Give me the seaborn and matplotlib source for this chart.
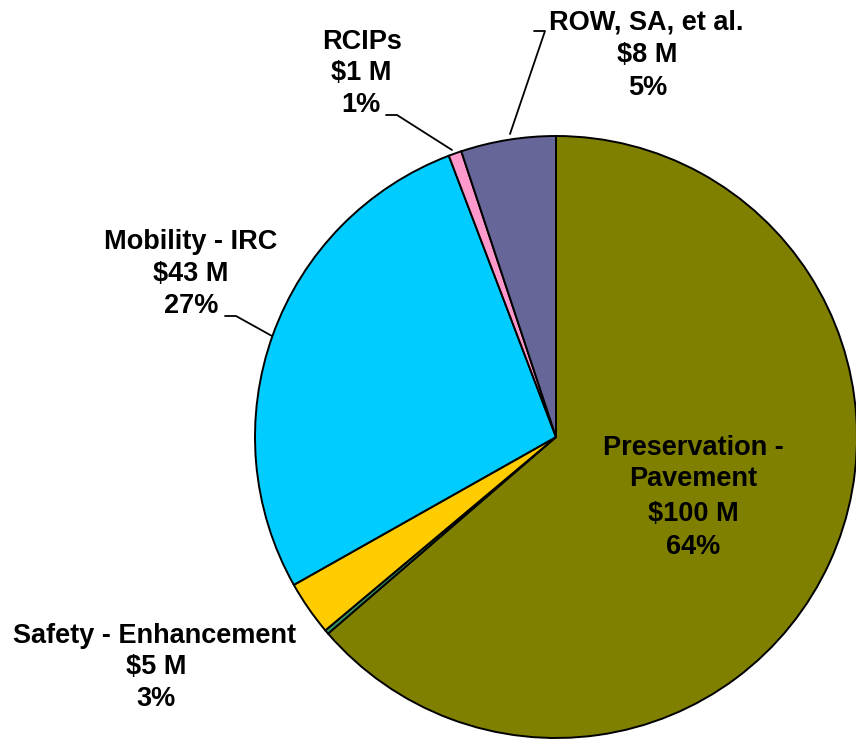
import matplotlib
matplotlib.use("Agg")
import matplotlib.pyplot as plt
import seaborn as sns

# ---- data ----
categories = ["Preservation - Pavement", "Other", "Safety - Enhancement",
              "Mobility - IRC", "RCIPs", "ROW, SA, et al."]
values_musd = [100, 0.35, 4.6, 43, 1.1, 8.0]
show_label = [True, False, True, True, True, True]
colors_hex = ["#808000", "#339966", "#FFCC00", "#00CCFF", "#FF99CC", "#666699"]

sns.set_theme(style="white")
plt.rcParams['font.family'] = ['Liberation Sans', 'DejaVu Sans']

W, H = 856, 744
fig = plt.figure(figsize=(W / 100, H / 100), dpi=100)
ax = fig.add_axes([0, 0, 1, 1])
ax.set_xlim(0, W)
ax.set_ylim(0, H)
ax.set_aspect('equal')
ax.axis('off')

palette = sns.color_palette(colors_hex)
cx, cy, r = 556, H - 437, 301
ax.pie(values_musd, colors=palette, startangle=90, counterclock=False,
       center=(cx, cy), radius=r, frame=True,
       wedgeprops=dict(edgecolor='black', linewidth=1.4))
ax.set_xlim(0, W)
ax.set_ylim(0, H)
ax.axis('off')

total = sum(values_musd)
label_texts = []
for name, v in zip(categories, values_musd):
    label_texts.append([name, f"${v:.0f} M", f"{100 * v / total:.0f}%"])

# label placement (image pixel coords): (center x, list of line y's)
placements = {
    "Preservation - Pavement": ([693, 693, 693, 693], [448, 479, 514, 547]),
    "Safety - Enhancement": ([155, 156, 156], [636, 667, 699]),
    "Mobility - IRC": ([191, 191, 191], [242, 274, 306]),
    "RCIPs": ([362, 361, 361], [42, 73, 105]),
    "ROW, SA, et al.": ([646, 647, 648], [22, 55, 88]),
}
fs = 19.5
for name, lines, show in zip(categories, label_texts, show_label):
    if not show:
        continue
    if name == "Preservation - Pavement":
        lines = ["Preservation -", "Pavement"] + lines[1:]
    xs, ys = placements[name]
    for t, x, y in zip(lines, xs, ys):
        ax.text(x, H - y, t, ha='center', va='center', fontsize=fs,
                fontweight='bold', color='black')

# leader lines
leaders = [
    [(386, 115), (397, 115), (452, 150)],
    [(534, 31), (545, 31), (510, 134)],
    [(225, 316), (236, 316), (272, 336)],
]
for pts in leaders:
    ax.plot([p[0] for p in pts], [H - p[1] for p in pts], color='black', lw=1.3)

fig.savefig("out.png", dpi=100)
